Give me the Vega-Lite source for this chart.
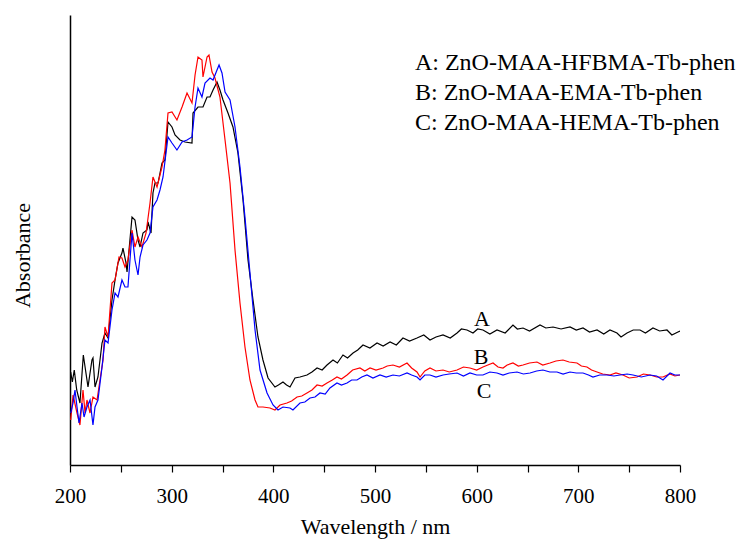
{
"$schema": "https://vega.github.io/schema/vega-lite/v6.json",
"width": 610, "height": 450,
"autosize": {"type": "none"},
"padding": {"left": 70, "top": 15, "right": 71, "bottom": 78},
"background": "white",
"config": {"view": {"stroke": null}, "font": "Liberation Serif",
"axis": {"labelFont": "Liberation Serif", "titleFont": "Liberation Serif"},
"text": {"font": "Liberation Serif"}},
"datasets": {
"curves": [
{"s":"A","x":200.7,"y":0.93},{"s":"A","x":202.3,"y":0.83},{"s":"A","x":204.2,"y":0.95},{"s":"A","x":206.6,"y":0.75},{"s":"A","x":209.8,"y":0.62},{"s":"A","x":213.1,"y":1.10},{"s":"A","x":217.7,"y":0.78},{"s":"A","x":221.6,"y":1.05},{"s":"A","x":222.6,"y":1.07},{"s":"A","x":224.6,"y":0.78},{"s":"A","x":227.5,"y":0.88},{"s":"A","x":231.5,"y":1.22},{"s":"A","x":234.4,"y":1.32},{"s":"A","x":237.4,"y":1.27},{"s":"A","x":241.3,"y":1.65},{"s":"A","x":244.3,"y":1.85},{"s":"A","x":247.2,"y":2.02},{"s":"A","x":251.1,"y":2.12},{"s":"A","x":252.1,"y":2.17},{"s":"A","x":255.1,"y":2.02},{"s":"A","x":256.1,"y":1.93},{"s":"A","x":261.0,"y":2.48},{"s":"A","x":263.9,"y":2.45},{"s":"A","x":266.9,"y":2.25},{"s":"A","x":268.9,"y":2.18},{"s":"A","x":271.8,"y":2.32},{"s":"A","x":275.7,"y":2.35},{"s":"A","x":276.7,"y":2.43},{"s":"A","x":279.7,"y":2.32},{"s":"A","x":281.6,"y":2.72},{"s":"A","x":283.6,"y":2.82},{"s":"A","x":286.6,"y":2.82},{"s":"A","x":290.5,"y":3.02},{"s":"A","x":293.4,"y":3.05},{"s":"A","x":296.4,"y":3.43},{"s":"A","x":300.3,"y":3.38},{"s":"A","x":303.3,"y":3.30},{"s":"A","x":308.2,"y":3.25},{"s":"A","x":313.1,"y":3.23},{"s":"A","x":320.0,"y":3.22},{"s":"A","x":321.0,"y":3.52},{"s":"A","x":325.9,"y":3.58},{"s":"A","x":330.8,"y":3.58},{"s":"A","x":334.8,"y":3.68},{"s":"A","x":337.7,"y":3.68},{"s":"A","x":340.7,"y":3.75},{"s":"A","x":344.6,"y":3.83},{"s":"A","x":347.5,"y":3.75},{"s":"A","x":350.5,"y":3.65},{"s":"A","x":355.4,"y":3.52},{"s":"A","x":360.3,"y":3.38},{"s":"A","x":365.2,"y":3.12},{"s":"A","x":370.2,"y":2.65},{"s":"A","x":375.1,"y":2.05},{"s":"A","x":380.0,"y":1.65},{"s":"A","x":384.9,"y":1.28},{"s":"A","x":389.8,"y":1.05},{"s":"A","x":394.8,"y":0.87},{"s":"A","x":401.6,"y":0.78},{"s":"A","x":405,"y":0.80},{"s":"A","x":409.5,"y":0.83},{"s":"A","x":413,"y":0.80},{"s":"A","x":416.4,"y":0.78},{"s":"A","x":421.3,"y":0.87},{"s":"A","x":426.2,"y":0.88},{"s":"A","x":433.1,"y":0.90},{"s":"A","x":438,"y":0.93},{"s":"A","x":443.0,"y":0.97},{"s":"A","x":448,"y":0.95},{"s":"A","x":452.8,"y":1.00},{"s":"A","x":458.7,"y":1.05},{"s":"A","x":463,"y":1.02},{"s":"A","x":468.5,"y":1.10},{"s":"A","x":473,"y":1.07},{"s":"A","x":478.4,"y":1.12},{"s":"A","x":483,"y":1.15},{"s":"A","x":488.2,"y":1.20},{"s":"A","x":495,"y":1.17},{"s":"A","x":502.0,"y":1.22},{"s":"A","x":508,"y":1.19},{"s":"A","x":514.8,"y":1.23},{"s":"A","x":521,"y":1.20},{"s":"A","x":527.5,"y":1.27},{"s":"A","x":534,"y":1.24},{"s":"A","x":541.3,"y":1.27},{"s":"A","x":548,"y":1.30},{"s":"A","x":554.1,"y":1.25},{"s":"A","x":560,"y":1.28},{"s":"A","x":566.9,"y":1.30},{"s":"A","x":574,"y":1.27},{"s":"A","x":580.7,"y":1.32},{"s":"A","x":585,"y":1.36},{"s":"A","x":590.5,"y":1.35},{"s":"A","x":596.4,"y":1.32},{"s":"A","x":601,"y":1.36},{"s":"A","x":606.2,"y":1.35},{"s":"A","x":613,"y":1.31},{"s":"A","x":620.0,"y":1.35},{"s":"A","x":628,"y":1.32},{"s":"A","x":635.7,"y":1.40},{"s":"A","x":640,"y":1.36},{"s":"A","x":645.6,"y":1.37},{"s":"A","x":652,"y":1.34},{"s":"A","x":662.3,"y":1.40},{"s":"A","x":668,"y":1.37},{"s":"A","x":675.1,"y":1.38},{"s":"A","x":683,"y":1.36},{"s":"A","x":691.8,"y":1.38},{"s":"A","x":698,"y":1.35},{"s":"A","x":704.6,"y":1.37},{"s":"A","x":711,"y":1.33},{"s":"A","x":718.4,"y":1.35},{"s":"A","x":725,"y":1.31},{"s":"A","x":731.1,"y":1.35},{"s":"A","x":738,"y":1.32},{"s":"A","x":742,"y":1.28},{"s":"A","x":747.9,"y":1.32},{"s":"A","x":754,"y":1.35},{"s":"A","x":760.7,"y":1.35},{"s":"A","x":766,"y":1.32},{"s":"A","x":773.4,"y":1.37},{"s":"A","x":780,"y":1.34},{"s":"A","x":787.2,"y":1.35},{"s":"A","x":792,"y":1.30},{"s":"A","x":798.0,"y":1.33},{"s":"A","x":800,"y":1.34},
{"s":"B","x":200.7,"y":0.45},{"s":"B","x":203.0,"y":0.70},{"s":"B","x":206.9,"y":0.52},{"s":"B","x":209.8,"y":0.40},{"s":"B","x":212.8,"y":0.75},{"s":"B","x":214.8,"y":0.52},{"s":"B","x":216.7,"y":0.65},{"s":"B","x":219.7,"y":0.52},{"s":"B","x":222.6,"y":0.68},{"s":"B","x":226.6,"y":0.65},{"s":"B","x":229.5,"y":0.85},{"s":"B","x":232.5,"y":1.05},{"s":"B","x":234.4,"y":1.38},{"s":"B","x":237.4,"y":1.28},{"s":"B","x":241.3,"y":1.82},{"s":"B","x":244.3,"y":1.85},{"s":"B","x":248.2,"y":2.08},{"s":"B","x":251.1,"y":2.07},{"s":"B","x":254.1,"y":1.98},{"s":"B","x":257.0,"y":2.05},{"s":"B","x":261.0,"y":2.35},{"s":"B","x":263.9,"y":2.18},{"s":"B","x":266.9,"y":2.28},{"s":"B","x":270.8,"y":2.18},{"s":"B","x":274.8,"y":2.32},{"s":"B","x":278.7,"y":2.62},{"s":"B","x":281.6,"y":2.88},{"s":"B","x":285.6,"y":2.78},{"s":"B","x":290.5,"y":2.98},{"s":"B","x":293.4,"y":3.15},{"s":"B","x":296.4,"y":3.52},{"s":"B","x":300.3,"y":3.53},{"s":"B","x":305.2,"y":3.45},{"s":"B","x":310.2,"y":3.58},{"s":"B","x":315.1,"y":3.72},{"s":"B","x":320.0,"y":3.62},{"s":"B","x":323.0,"y":3.90},{"s":"B","x":325.9,"y":4.08},{"s":"B","x":329.8,"y":4.05},{"s":"B","x":330.8,"y":3.88},{"s":"B","x":334.8,"y":4.08},{"s":"B","x":336.7,"y":4.10},{"s":"B","x":339.7,"y":3.93},{"s":"B","x":342.6,"y":3.87},{"s":"B","x":347.5,"y":3.68},{"s":"B","x":352.5,"y":3.25},{"s":"B","x":357.4,"y":2.82},{"s":"B","x":362.3,"y":2.15},{"s":"B","x":367.2,"y":1.62},{"s":"B","x":372.1,"y":1.18},{"s":"B","x":377.0,"y":0.85},{"s":"B","x":382.0,"y":0.65},{"s":"B","x":384.9,"y":0.58},{"s":"B","x":389.8,"y":0.58},{"s":"B","x":396.7,"y":0.57},{"s":"B","x":401.6,"y":0.55},{"s":"B","x":406.6,"y":0.60},{"s":"B","x":413.4,"y":0.62},{"s":"B","x":418,"y":0.64},{"s":"B","x":423.3,"y":0.68},{"s":"B","x":428,"y":0.69},{"s":"B","x":433.1,"y":0.72},{"s":"B","x":438,"y":0.75},{"s":"B","x":443.0,"y":0.80},{"s":"B","x":448,"y":0.79},{"s":"B","x":452.8,"y":0.82},{"s":"B","x":458,"y":0.85},{"s":"B","x":462.6,"y":0.88},{"s":"B","x":467,"y":0.86},{"s":"B","x":472.5,"y":0.90},{"s":"B","x":478,"y":0.95},{"s":"B","x":485.2,"y":0.97},{"s":"B","x":490,"y":0.94},{"s":"B","x":495.1,"y":0.97},{"s":"B","x":501,"y":0.95},{"s":"B","x":507.9,"y":0.97},{"s":"B","x":512,"y":0.99},{"s":"B","x":517.7,"y":1.00},{"s":"B","x":524,"y":0.98},{"s":"B","x":531.5,"y":1.02},{"s":"B","x":536,"y":0.97},{"s":"B","x":541.3,"y":0.93},{"s":"B","x":544.3,"y":0.88},{"s":"B","x":549,"y":0.94},{"s":"B","x":554.1,"y":0.97},{"s":"B","x":560,"y":0.94},{"s":"B","x":566.9,"y":0.95},{"s":"B","x":573,"y":0.93},{"s":"B","x":580.7,"y":0.95},{"s":"B","x":587,"y":0.98},{"s":"B","x":593.4,"y":0.97},{"s":"B","x":600,"y":0.95},{"s":"B","x":606.2,"y":0.98},{"s":"B","x":611,"y":1.00},{"s":"B","x":616.1,"y":1.02},{"s":"B","x":621,"y":0.98},{"s":"B","x":625.9,"y":0.97},{"s":"B","x":630,"y":1.00},{"s":"B","x":635.7,"y":1.02},{"s":"B","x":641,"y":0.99},{"s":"B","x":645.6,"y":1.00},{"s":"B","x":652,"y":1.02},{"s":"B","x":659.3,"y":1.03},{"s":"B","x":665,"y":1.00},{"s":"B","x":672.1,"y":1.02},{"s":"B","x":678,"y":1.04},{"s":"B","x":684.9,"y":1.05},{"s":"B","x":691,"y":1.03},{"s":"B","x":698.7,"y":1.02},{"s":"B","x":703,"y":0.99},{"s":"B","x":708.5,"y":0.98},{"s":"B","x":713,"y":0.95},{"s":"B","x":718.4,"y":0.93},{"s":"B","x":724,"y":0.91},{"s":"B","x":731.1,"y":0.90},{"s":"B","x":737,"y":0.92},{"s":"B","x":743.9,"y":0.90},{"s":"B","x":750,"y":0.87},{"s":"B","x":757.7,"y":0.88},{"s":"B","x":764,"y":0.91},{"s":"B","x":770.5,"y":0.90},{"s":"B","x":777,"y":0.88},{"s":"B","x":783.3,"y":0.88},{"s":"B","x":790,"y":0.91},{"s":"B","x":795,"y":0.89},{"s":"B","x":800,"y":0.90},
{"s":"C","x":200.7,"y":0.52},{"s":"C","x":203.0,"y":0.62},{"s":"C","x":204.9,"y":0.75},{"s":"C","x":206.9,"y":0.58},{"s":"C","x":208.9,"y":0.42},{"s":"C","x":211.8,"y":0.62},{"s":"C","x":213.8,"y":0.48},{"s":"C","x":216.7,"y":0.58},{"s":"C","x":219.7,"y":0.65},{"s":"C","x":222.6,"y":0.40},{"s":"C","x":224.6,"y":0.58},{"s":"C","x":227.5,"y":0.65},{"s":"C","x":231.5,"y":0.98},{"s":"C","x":234.4,"y":1.25},{"s":"C","x":237.4,"y":1.22},{"s":"C","x":241.3,"y":1.55},{"s":"C","x":244.3,"y":1.72},{"s":"C","x":247.2,"y":1.68},{"s":"C","x":251.1,"y":1.85},{"s":"C","x":254.1,"y":1.78},{"s":"C","x":257.0,"y":1.78},{"s":"C","x":261.0,"y":2.32},{"s":"C","x":263.9,"y":2.05},{"s":"C","x":266.9,"y":1.90},{"s":"C","x":268.9,"y":2.08},{"s":"C","x":271.8,"y":2.20},{"s":"C","x":275.7,"y":2.25},{"s":"C","x":278.7,"y":2.32},{"s":"C","x":281.6,"y":2.58},{"s":"C","x":285.6,"y":2.65},{"s":"C","x":288.5,"y":2.75},{"s":"C","x":291.5,"y":2.88},{"s":"C","x":296.4,"y":3.28},{"s":"C","x":300.3,"y":3.22},{"s":"C","x":305.2,"y":3.15},{"s":"C","x":310.2,"y":3.23},{"s":"C","x":315.1,"y":3.25},{"s":"C","x":320.0,"y":3.28},{"s":"C","x":323.0,"y":3.58},{"s":"C","x":325.9,"y":3.77},{"s":"C","x":329.8,"y":3.68},{"s":"C","x":332.8,"y":3.82},{"s":"C","x":337.7,"y":3.87},{"s":"C","x":340.7,"y":3.85},{"s":"C","x":344.6,"y":3.95},{"s":"C","x":346.6,"y":4.00},{"s":"C","x":349.5,"y":3.92},{"s":"C","x":352.5,"y":3.73},{"s":"C","x":357.4,"y":3.65},{"s":"C","x":362.3,"y":3.38},{"s":"C","x":367.2,"y":2.98},{"s":"C","x":372.1,"y":2.48},{"s":"C","x":377.0,"y":1.92},{"s":"C","x":382.0,"y":1.35},{"s":"C","x":386.9,"y":0.95},{"s":"C","x":393.8,"y":0.72},{"s":"C","x":399.7,"y":0.60},{"s":"C","x":404.6,"y":0.55},{"s":"C","x":409.5,"y":0.58},{"s":"C","x":416.4,"y":0.57},{"s":"C","x":419.3,"y":0.55},{"s":"C","x":426.2,"y":0.62},{"s":"C","x":431,"y":0.63},{"s":"C","x":436.1,"y":0.67},{"s":"C","x":441,"y":0.68},{"s":"C","x":445.9,"y":0.72},{"s":"C","x":451,"y":0.71},{"s":"C","x":455.7,"y":0.77},{"s":"C","x":462.6,"y":0.82},{"s":"C","x":467,"y":0.80},{"s":"C","x":472.5,"y":0.82},{"s":"C","x":477,"y":0.85},{"s":"C","x":482.3,"y":0.85},{"s":"C","x":487,"y":0.88},{"s":"C","x":492.1,"y":0.90},{"s":"C","x":498,"y":0.87},{"s":"C","x":504.9,"y":0.90},{"s":"C","x":511,"y":0.88},{"s":"C","x":517.7,"y":0.90},{"s":"C","x":524,"y":0.89},{"s":"C","x":531.5,"y":0.92},{"s":"C","x":536,"y":0.90},{"s":"C","x":541.3,"y":0.88},{"s":"C","x":544.3,"y":0.85},{"s":"C","x":549,"y":0.90},{"s":"C","x":554.1,"y":0.90},{"s":"C","x":560,"y":0.88},{"s":"C","x":566.9,"y":0.90},{"s":"C","x":573,"y":0.91},{"s":"C","x":580.7,"y":0.92},{"s":"C","x":587,"y":0.89},{"s":"C","x":593.4,"y":0.92},{"s":"C","x":600,"y":0.90},{"s":"C","x":606.2,"y":0.90},{"s":"C","x":613,"y":0.93},{"s":"C","x":620.0,"y":0.92},{"s":"C","x":625.9,"y":0.90},{"s":"C","x":632,"y":0.92},{"s":"C","x":639.7,"y":0.93},{"s":"C","x":646,"y":0.91},{"s":"C","x":652.5,"y":0.92},{"s":"C","x":659,"y":0.94},{"s":"C","x":665.2,"y":0.95},{"s":"C","x":672,"y":0.93},{"s":"C","x":679.0,"y":0.93},{"s":"C","x":685,"y":0.91},{"s":"C","x":691.8,"y":0.93},{"s":"C","x":698,"y":0.92},{"s":"C","x":704.6,"y":0.92},{"s":"C","x":710,"y":0.90},{"s":"C","x":714.4,"y":0.88},{"s":"C","x":721,"y":0.90},{"s":"C","x":728.2,"y":0.90},{"s":"C","x":735,"y":0.89},{"s":"C","x":741.0,"y":0.90},{"s":"C","x":748,"y":0.91},{"s":"C","x":753.8,"y":0.90},{"s":"C","x":762,"y":0.88},{"s":"C","x":770.5,"y":0.90},{"s":"C","x":777,"y":0.89},{"s":"C","x":783.3,"y":0.85},{"s":"C","x":790.2,"y":0.92},{"s":"C","x":795,"y":0.90},{"s":"C","x":800,"y":0.90}
],
"legendText": [
{"t":"A: ZnO-MAA-HFBMA-Tb-phen","x":539.3,"y":3.95},
{"t":"B: ZnO-MAA-EMA-Tb-phen","x":539.3,"y":3.65},
{"t":"C: ZnO-MAA-HEMA-Tb-phen","x":539.3,"y":3.35}
],
"curveLabels": [
{"t":"A","x":605.2,"y":1.39},
{"t":"B","x":604.3,"y":1.01},
{"t":"C","x":607.2,"y":0.67}
]
},
"layer": [
{
"data": {"name": "curves"},
"mark": {"type": "line", "strokeWidth": 1.2, "clip": true},
"encoding": {
"x": {"field": "x", "type": "quantitative",
"scale": {"domain": [200, 800], "nice": false, "zero": false},
"axis": {"values": [200,250,300,350,400,450,500,550,600,650,700,750,800],
"labelExpr": "datum.value % 100 === 0 ? datum.label : ''",
"title": "Wavelength / nm", "grid": false,
"domainColor": "black", "domainWidth": 1.5,
"tickColor": "black", "tickWidth": 1.2, "tickSize": 7,
"labelFont": "Liberation Serif", "labelFontSize": 21, "labelColor": "black",
"labelPadding": 30, "labelBaseline": "alphabetic", "labelFlush": false, "labelOverlap": false,
"titleFont": "Liberation Serif", "titleFontSize": 22, "titleFontWeight": "normal", "titleColor": "black",
"titleY": 68, "titleBaseline": "alphabetic",
"encode": {"ticks": {"update": {"y2": {"signal": "datum.value % 100 === 0 ? 7 : 4"}}},
"labels": {"update": {"font": {"value": "Liberation Serif"}}},
"title": {"update": {"font": {"value": "Liberation Serif"}}}}}},
"y": {"field": "y", "type": "quantitative",
"scale": {"domain": [0, 4.5], "nice": false, "zero": false},
"axis": {"title": "Absorbance", "labels": false, "ticks": false, "grid": false,
"domainColor": "black", "domainWidth": 1.5,
"titleFont": "Liberation Serif", "titleFontSize": 22, "titleFontWeight": "normal", "titleColor": "black",
"titleX": -48, "titleY": 240, "titleBaseline": "middle"}},
"color": {"field": "s", "type": "nominal",
"scale": {"domain": ["A","B","C"], "range": ["#000000","#ff0000","#0000ff"]},
"legend": null}
}
},
{
"data": {"name": "legendText"},
"mark": {"type": "text", "align": "left", "baseline": "alphabetic", "font": "Liberation Serif", "fontSize": 24, "color": "black"},
"encoding": {
"x": {"field": "x", "type": "quantitative"},
"y": {"field": "y", "type": "quantitative"},
"text": {"field": "t"}
}
},
{
"data": {"name": "curveLabels"},
"mark": {"type": "text", "align": "center", "baseline": "alphabetic", "font": "Liberation Serif", "fontSize": 22, "color": "black"},
"encoding": {
"x": {"field": "x", "type": "quantitative"},
"y": {"field": "y", "type": "quantitative"},
"text": {"field": "t"}
}
}
]
}
